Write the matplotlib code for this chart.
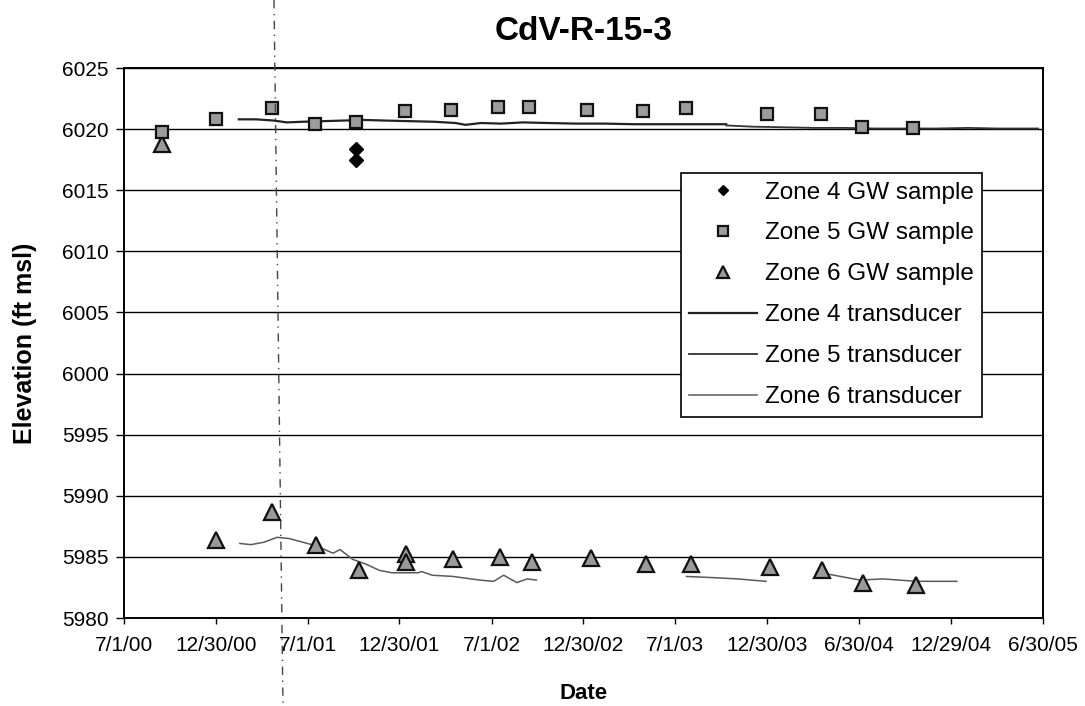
import numpy as np
import pandas as pd
import matplotlib
matplotlib.use("Agg")
import matplotlib.pyplot as plt
from matplotlib.lines import Line2D

plt.rcParams['font.family'] = ['Liberation Sans', 'DejaVu Sans']

# ---------------- data ----------------
tick_labels = ["7/1/00", "12/30/00", "7/1/01", "12/30/01", "7/1/02", "12/30/02",
               "7/1/03", "12/30/03", "6/30/04", "12/29/04", "6/30/05"]

z4_dates = ["2001-10-05", "2001-10-05"]
z4_vals = [6018.4, 6017.5]

z5_dates = ["2000-09-15", "2000-12-31", "2001-04-21", "2001-07-16", "2001-10-05",
            "2002-01-11", "2002-04-12", "2002-07-13", "2002-09-14", "2003-01-07",
            "2003-04-27", "2003-07-23", "2003-12-30", "2004-04-16", "2004-07-05",
            "2004-10-15"]
z5_vals = [6019.8, 6020.8, 6021.7, 6020.4, 6020.6, 6021.5, 6021.6, 6021.8, 6021.8,
           6021.6, 6021.5, 6021.7, 6021.2, 6021.2, 6020.2, 6020.1]

z6_dates = ["2000-09-15", "2000-12-31", "2001-04-21", "2001-07-18", "2001-10-10",
            "2002-01-13", "2002-01-13", "2002-04-15", "2002-07-17", "2002-09-20",
            "2003-01-15", "2003-05-03", "2003-07-31", "2004-01-05", "2004-04-18",
            "2004-07-07", "2004-10-21"]
z6_vals = [6018.8, 5986.4, 5988.7, 5986.0, 5983.9, 5985.2, 5984.6, 5984.8, 5985.0,
           5984.6, 5984.9, 5984.4, 5984.4, 5984.2, 5983.9, 5982.9, 5982.7]

z4t_dates = ["2001-02-14", "2001-03-20", "2001-04-25", "2001-05-20", "2001-06-20",
             "2001-08-01", "2001-09-10", "2001-10-20", "2001-12-01", "2002-01-20",
             "2002-03-10", "2002-04-20", "2002-05-10", "2002-06-10", "2002-07-20",
             "2002-09-01", "2002-10-20", "2002-12-15", "2003-02-10", "2003-04-10",
             "2003-06-10", "2003-08-10", "2003-10-10"]
z4t_vals = [6020.8, 6020.8, 6020.7, 6020.55, 6020.6, 6020.65, 6020.7, 6020.75, 6020.7,
            6020.65, 6020.6, 6020.5, 6020.35, 6020.5, 6020.45, 6020.55, 6020.5, 6020.45,
            6020.45, 6020.4, 6020.4, 6020.4, 6020.4]

z5t_dates = ["2003-10-10", "2003-12-01", "2004-02-01", "2004-04-01", "2004-06-01",
             "2004-08-01", "2004-10-01", "2004-12-01", "2005-02-01", "2005-04-01",
             "2005-06-20"]
z5t_vals = [6020.3, 6020.2, 6020.15, 6020.1, 6020.1, 6020.05, 6020.05, 6020.05,
            6020.1, 6020.05, 6020.05]

z6t_dates = ["2001-02-16", "2001-03-10", "2001-04-05", "2001-05-01", "2001-05-25",
             "2001-07-18", "2001-08-20", "2001-09-03", "2001-09-28", "2001-10-25",
             "2001-11-20", "2001-12-15", "2002-02-05", "2002-02-12", "2002-03-05",
             "2002-04-15", "2002-06-08", "2002-07-05", "2002-07-25", "2002-08-20",
             "2002-09-10", "2002-09-28",
             None,
             "2003-07-23", "2003-09-15", "2003-11-01", "2003-12-28",
             None,
             "2004-04-28", "2004-07-02", "2004-08-15", "2004-10-22", "2005-01-10"]
z6t_vals = [5986.1, 5986.0, 5986.2, 5986.6, 5986.5, 5985.9, 5985.3, 5985.6, 5984.8,
            5984.4, 5983.9, 5983.7, 5983.7, 5983.8, 5983.5, 5983.4, 5983.1, 5983.0,
            5983.5, 5982.9, 5983.2, 5983.1,
            np.nan,
            5983.4, 5983.3, 5983.2, 5983.0,
            np.nan,
            5983.6, 5983.1, 5983.2, 5983.0, 5983.0]

y_ticks = [5980, 5985, 5990, 5995, 6000, 6005, 6010, 6015, 6020, 6025]

# ---------------- figure ----------------
W, H = 1085, 706
L, R, T, B = 124, 1043, 68, 618
fig = plt.figure(figsize=(W / 100, H / 100), dpi=100)
ax = fig.add_axes([L / W, 1 - B / H, (R - L) / W, (B - T) / H])


def dt(lst):
    return pd.to_datetime(pd.Series(lst))


tick_dates = pd.to_datetime(tick_labels, format="%m/%d/%y")

for yv in y_ticks:
    ax.axhline(yv, color='black', lw=1.0, zorder=1)

ax.plot(dt(z4t_dates), z4t_vals, color='#222222', lw=1.6, zorder=2, label='Zone 4 transducer')
ax.plot(dt(z5t_dates), z5t_vals, color='#333333', lw=1.3, zorder=2, label='Zone 5 transducer')
ax.plot(dt(z6t_dates), z6t_vals, color='#5a5a5a', lw=1.1, zorder=2, label='Zone 6 transducer')

ax.plot(dt(z4_dates), z4_vals, linestyle='none', marker='D', ms=7, color='black',
        zorder=4, label='Zone 4 GW sample')
ax.plot(dt(z5_dates), z5_vals, linestyle='none', marker='s', ms=9, mfc='#9c9c9c',
        mec='#111111', mew=1.6, zorder=4, label='Zone 5 GW sample')
ax.plot(dt(z6_dates), z6_vals, linestyle='none', marker='^', ms=11, mfc='#9a9a9a',
        mec='#111111', mew=1.6, zorder=3, label='Zone 6 GW sample')

ax.set_xlim(tick_dates[0], tick_dates[-1])
ax.set_ylim(5980, 6025)
ax.set_xticks(tick_dates)
ax.set_xticklabels(tick_labels)
ax.set_yticks(y_ticks)
ax.tick_params(axis='both', direction='out', width=1, labelsize=15, color='black')
ax.tick_params(axis='x', length=4, pad=9)
ax.tick_params(axis='y', length=6, pad=5)
for sp in ax.spines.values():
    sp.set_linewidth(1.4)
    sp.set_color('black')

ax.set_title('CdV-R-15-3', fontsize=24, fontweight='bold', pad=20)
ax.set_xlabel('Date', fontsize=16, fontweight='bold')
ax.set_ylabel('Elevation (ft msl)', fontsize=18, fontweight='bold')
ax.xaxis.set_label_coords(0.5, (B - 683) / (B - T))
ax.yaxis.set_label_coords((37 - L) / (R - L), 0.5)

# legend
h, l = ax.get_legend_handles_labels()
order = [3, 4, 5, 0, 1, 2]
leg = ax.legend([h[i] for i in order], [l[i] for i in order],
                loc='upper right', bbox_to_anchor=((982 - L) / (R - L), (B - 173) / (B - T)),
                fontsize=17.5, frameon=True, fancybox=False, edgecolor='black',
                framealpha=1, borderpad=0.35, labelspacing=0.78, handlelength=2.8,
                handletextpad=0.3, borderaxespad=0, markerscale=0.75)
leg.get_frame().set_linewidth(1.2)

# hand-drawn dash-dot marker line on the page
fig.add_artist(Line2D([274 / W, 283 / W], [1.0, 0.0], transform=fig.transFigure,
                      color='#444444', lw=1.0, linestyle=(0, (6, 4, 1, 4))))

fig.savefig('out.png', dpi=100)
